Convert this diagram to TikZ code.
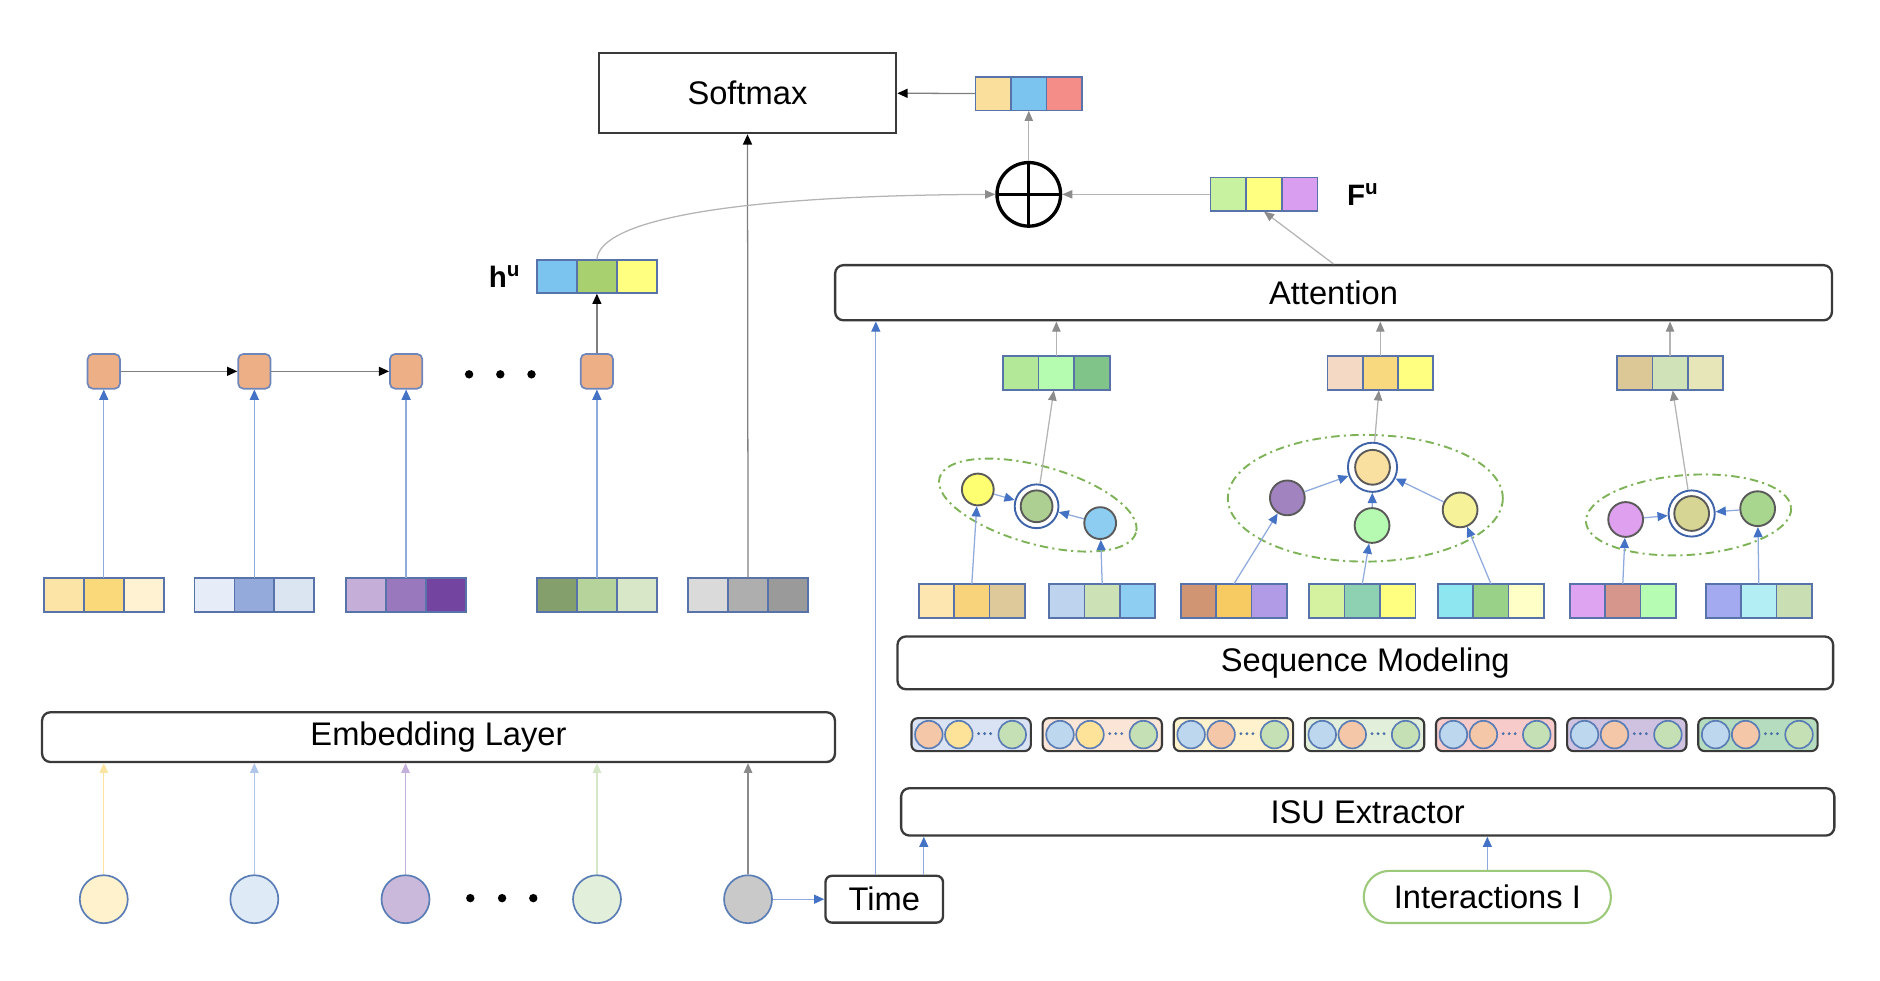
\documentclass[tikz,border=0pt]{standalone}
\usepackage{fontspec}
\setmainfont{Liberation Sans}
\usepackage{tikz}
\usetikzlibrary{arrows}
\usetikzlibrary{arrows.meta}
\usetikzlibrary{positioning}

\definecolor{boxedge}{HTML}{3A3A3A}
\definecolor{celledge}{HTML}{5873AA}
\definecolor{nodeedge}{HTML}{5B7DB5}
\definecolor{gedge}{HTML}{5A5A5A}
\definecolor{ringedge}{HTML}{3F63A8}
\definecolor{bluetip}{HTML}{4472C4}
\definecolor{blueline}{HTML}{8FAADC}
\definecolor{greyline}{HTML}{B4B4B4}
\definecolor{greytip}{HTML}{8C8C8C}
\definecolor{darkline}{HTML}{7F7F7F}
\definecolor{groupline}{HTML}{7DB356}
\definecolor{interedge}{HTML}{9CC97A}
\definecolor{rnnfill}{HTML}{EDB086}
\definecolor{rnnedge}{HTML}{6F86BB}
\definecolor{dotblue}{HTML}{4A6FA5}
% item circles
\definecolor{cA}{HTML}{FFF2CC}
\definecolor{cB}{HTML}{DEEBF7}
\definecolor{cC}{HTML}{CBB9DC}
\definecolor{cD}{HTML}{E2EFDA}
\definecolor{cE}{HTML}{C9C9C9}
\definecolor{aA}{HTML}{FBE3A0}
\definecolor{aB}{HTML}{AFC6EA}
\definecolor{aC}{HTML}{C3B1DB}
\definecolor{aD}{HTML}{D4E7C6}
\definecolor{aE}{HTML}{8A8A8A}
% embeddings
\definecolor{eA1}{HTML}{FCE4A6}
\definecolor{eA2}{HTML}{FAD97A}
\definecolor{eA3}{HTML}{FEF2D2}
\definecolor{eB1}{HTML}{E7EDF8}
\definecolor{eB2}{HTML}{93AADA}
\definecolor{eB3}{HTML}{DBE5F2}
\definecolor{eC1}{HTML}{C5AFD8}
\definecolor{eC2}{HTML}{9A78BD}
\definecolor{eC3}{HTML}{7445A0}
\definecolor{eD1}{HTML}{849F6B}
\definecolor{eD2}{HTML}{B5D39B}
\definecolor{eD3}{HTML}{D9E7C9}
\definecolor{eE1}{HTML}{DADADA}
\definecolor{eE2}{HTML}{AEAEAE}
\definecolor{eE3}{HTML}{9A9A9A}
% outputs
\definecolor{hu1}{HTML}{7CC4F0}
\definecolor{hu2}{HTML}{A8D06E}
\definecolor{hu3}{HTML}{FFFF80}
\definecolor{out1}{HTML}{FADE9C}
\definecolor{out2}{HTML}{7CC4F0}
\definecolor{out3}{HTML}{F48C87}
\definecolor{fu1}{HTML}{C9F2A0}
\definecolor{fu2}{HTML}{FFFF80}
\definecolor{fu3}{HTML}{DA9EF0}
\definecolor{at11}{HTML}{B2E897}
\definecolor{at12}{HTML}{B6FCB0}
\definecolor{at13}{HTML}{80C489}
\definecolor{at21}{HTML}{F4D9C4}
\definecolor{at22}{HTML}{F9D97F}
\definecolor{at23}{HTML}{FFFF80}
\definecolor{at31}{HTML}{DCC896}
\definecolor{at32}{HTML}{D0E3B8}
\definecolor{at33}{HTML}{E6E6B8}
% unit vectors
\definecolor{uA1}{HTML}{FDE6B0}
\definecolor{uA2}{HTML}{F9D37B}
\definecolor{uA3}{HTML}{DEC99B}
\definecolor{uB1}{HTML}{BED4EE}
\definecolor{uB2}{HTML}{CCE1B6}
\definecolor{uB3}{HTML}{8ECEF2}
\definecolor{uC1}{HTML}{D09674}
\definecolor{uC2}{HTML}{F8CB62}
\definecolor{uC3}{HTML}{B29BE6}
\definecolor{uD1}{HTML}{D4F2A0}
\definecolor{uD2}{HTML}{8ED0B2}
\definecolor{uD3}{HTML}{FFFF80}
\definecolor{uE1}{HTML}{8DE6F0}
\definecolor{uE2}{HTML}{9AD188}
\definecolor{uE3}{HTML}{FFFFC8}
\definecolor{uF1}{HTML}{DEA4F1}
\definecolor{uF2}{HTML}{D6968B}
\definecolor{uF3}{HTML}{B6FCB3}
\definecolor{uG1}{HTML}{A3AAEF}
\definecolor{uG2}{HTML}{B3EEF4}
\definecolor{uG3}{HTML}{C9DFB3}
% graph nodes
\definecolor{gY}{HTML}{FFFF72}
\definecolor{gG}{HTML}{ADCF92}
\definecolor{gB}{HTML}{8DCDF2}
\definecolor{gP}{HTML}{A083BF}
\definecolor{gO}{HTML}{FAE0A0}
\definecolor{gM}{HTML}{B5FAB0}
\definecolor{gL}{HTML}{F6F29A}
\definecolor{gV}{HTML}{DFA0F0}
\definecolor{gK}{HTML}{D6D594}
\definecolor{gN}{HTML}{A8D68E}
% sequences
\definecolor{sq1}{HTML}{DAE3F3}
\definecolor{sq2}{HTML}{FBE5D6}
\definecolor{sq3}{HTML}{FFF2CC}
\definecolor{sq4}{HTML}{E2EFDA}
\definecolor{sq5}{HTML}{F8CBCB}
\definecolor{sq6}{HTML}{CFC2E0}
\definecolor{sq7}{HTML}{B5DCBE}
\definecolor{qblue}{HTML}{BDD7EE}
\definecolor{qpeach}{HTML}{F4C7A9}
\definecolor{qyellow}{HTML}{FDE39A}
\definecolor{qgreen}{HTML}{C5E0B4}

\tikzstyle{layer}=[draw=boxedge, line width=1.1pt, rounded corners=4pt, inner sep=0pt]
\tikzstyle{cellline}=[draw=celledge, line width=0.8pt]
\tikzstyle{rnn}=[draw=rnnedge, fill=rnnfill, line width=0.8pt, rounded corners=2.5pt, minimum width=0.54cm, minimum height=0.58cm, inner sep=0pt]
\tikzstyle{item}=[circle, draw=nodeedge, line width=0.8pt, minimum size=0.8cm, inner sep=0pt]
\tikzstyle{gnode}=[circle, draw=gedge, line width=0.9pt, minimum size=0.58cm, inner sep=0pt]
\tikzstyle{ring}=[circle, draw=ringedge, line width=0.9pt, minimum size=0.8cm, inner sep=0pt]
\tikzstyle{unit}=[circle, draw=nodeedge, line width=0.8pt, minimum size=0.46cm, inner sep=0pt]
\tikzstyle{capsule}=[draw=boxedge, line width=1pt, rounded corners=3pt, minimum width=1.99cm, minimum height=0.55cm, inner sep=0pt]
\tikzstyle{group}=[draw=groupline, line width=0.9pt, dash pattern=on 4pt off 2pt on 1pt off 2pt]
\tikzstyle{blue arrow}=[draw=blueline, line width=0.6pt, -{Triangle[color=bluetip, length=0.17cm, width=0.15cm]}]
\tikzstyle{grey arrow}=[draw=greyline, line width=0.6pt, -{Triangle[color=greytip, length=0.17cm, width=0.14cm]}]
\tikzstyle{dark arrow}=[draw=darkline, line width=0.6pt, -{Triangle[color=black, length=0.17cm, width=0.15cm]}]
\tikzstyle{label}=[inner sep=0pt, font=\fontsize{14}{16}\selectfont\bfseries]

% three-cell vector: name, x, y, cell width, colours
\newcommand{\cellvec}[7]{%
  \foreach \cl [count=\i from 0] in {#5,#6,#7}
    \draw[cellline, fill=\cl] ({#2-1.5*#4+\i*#4},{#3-14}) rectangle ++(#4,28);
  \node[inner sep=0pt, minimum width=3*#4*0.02cm, minimum height=0.56cm] (#1) at (#2,#3) {};
}

\begin{document}
\begin{tikzpicture}[x=0.02cm, y=-0.02cm, font=\fontsize{15.5}{18}\selectfont]
    \path[use as bounding box] (0,0) rectangle (1567,817);

    % left branch
    \node[layer, minimum width=13.22cm, minimum height=0.83cm] (emb) at (365.5,614.4) {Embedding Layer};
    \foreach \x/\cf [count=\i] in {86.5/cA,212/cB,338/cC,497.6/cD,623.5/cE}
        \node[item, fill=\cf] (c\i) at (\x,749.5) {};
    \foreach \i/\ac in {1/aA,2/aB,3/aC,4/aD,5/aE}
        \draw[draw=\ac, line width=0.6pt, -{Triangle[color=\ac, length=0.16cm, width=0.14cm]}] (c\i) -- (c\i |- emb.south);
    \foreach \x in {392,418.5,444.5}
        \fill (\x,748.6) circle (3.5);

    \cellvec{e1}{86.5}{496}{33.3}{eA1}{eA2}{eA3}
    \cellvec{e2}{212}{496}{33.3}{eB1}{eB2}{eB3}
    \cellvec{e3}{338.5}{496}{33.3}{eC1}{eC2}{eC3}
    \cellvec{e4}{497.5}{496}{33.3}{eD1}{eD2}{eD3}
    \cellvec{e5}{623.5}{496}{33.3}{eE1}{eE2}{eE3}

    \foreach \x [count=\i] in {86.5,212,338.5,497.5}
        \node[rnn] (h\i) at (\x,309.5) {};
    \foreach \i in {1,...,4}
        \draw[blue arrow] (e\i) -- (h\i);
    \draw[dark arrow] (h1) -- (h2);
    \draw[dark arrow] (h2) -- (h3);
    \foreach \x in {391,417,443}
        \fill (\x,312) circle (3.5);

    \cellvec{hu}{497.5}{230.5}{33.3}{hu1}{hu2}{hu3}
    \node[label, left=0.26cm of hu] (hulab) {h\textsuperscript{u}};
    \draw[dark arrow] (h4) -- (hu);

    % output
    \node[draw=boxedge, line width=1.1pt, minimum width=4.96cm, minimum height=1.34cm, inner sep=0pt] (soft) at (623,77.5) {Softmax};
    \draw[dark arrow] (e5) -- (soft);
    \cellvec{out}{857.5}{78}{29.7}{out1}{out2}{out3}
    \draw[dark arrow] (out) -- (soft);
    \node[circle, draw, line width=1.6pt, minimum size=1.06cm, inner sep=0pt,
        path picture={\draw[line width=1.5pt] (path picture bounding box.west) -- (path picture bounding box.east)
            (path picture bounding box.north) -- (path picture bounding box.south);}] (sum) at (857.5,162) {};
    \draw[grey arrow] (sum) -- (out);
    \cellvec{Fu}{1053.5}{162}{29.7}{fu1}{fu2}{fu3}
    \node[label, right=0.48cm of Fu] (fulab) {F\textsuperscript{u}};
    \draw[grey arrow] (Fu) -- (sum);
    \draw[grey arrow] (hu.north) .. controls (500,185) and (600,163) .. (sum.west);

    % right branch
    \node[layer, minimum width=16.62cm, minimum height=0.92cm] (att) at (1111.5,244) {Attention};
    \draw[grey arrow] (att.north) -- (Fu.south);
    \cellvec{a1}{880.5}{311}{29.7}{at11}{at12}{at13}
    \cellvec{a2}{1150.5}{311}{29.4}{at21}{at22}{at23}
    \cellvec{a3}{1392}{311}{29.4}{at31}{at32}{at33}
    \foreach \i in {1,2,3}
        \draw[grey arrow] (a\i) -- (a\i |- att.south);

    \cellvec{u1}{810}{501}{29.5}{uA1}{uA2}{uA3}
    \cellvec{u2}{918.7}{501}{29.5}{uB1}{uB2}{uB3}
    \cellvec{u3}{1028.5}{501}{29.5}{uC1}{uC2}{uC3}
    \cellvec{u4}{1135.5}{501}{29.5}{uD1}{uD2}{uD3}
    \cellvec{u5}{1242.7}{501}{29.5}{uE1}{uE2}{uE3}
    \cellvec{u6}{1352.6}{501}{29.5}{uF1}{uF2}{uF3}
    \cellvec{u7}{1466}{501}{29.5}{uG1}{uG2}{uG3}

    % graph 1
    \draw[group, rotate around={-15.6:(865,421)}] (865,421) ellipse [x radius=85, y radius=32.5];
    \node[gnode, minimum size=0.53cm, fill=gY] (n11) at (815,408) {};
    \node[ring, minimum size=0.73cm] (r1) at (864,422) {};
    \node[gnode, minimum size=0.53cm, fill=gG] (n12) at (864,422) {};
    \node[gnode, minimum size=0.53cm, fill=gB] (n13) at (917,436) {};
    \draw[blue arrow] (u1.north) -- (n11);
    \draw[blue arrow] (u2.north) -- (n13);
    \draw[blue arrow] (n11) -- (r1);
    \draw[blue arrow] (n13) -- (r1);
    \draw[grey arrow] (r1) -- (a1);

    % graph 2
    \draw[group] (1138,415.3) ellipse [x radius=114.6, y radius=52.8];
    \node[gnode, fill=gP] (n21) at (1073,415) {};
    \node[ring, minimum size=0.82cm] (r2) at (1144,389.5) {};
    \node[gnode, fill=gO] (n22) at (1144,389.5) {};
    \node[gnode, fill=gM] (n23) at (1143.6,438) {};
    \node[gnode, fill=gL] (n24) at (1217,425) {};
    \draw[blue arrow] (u3.north) -- (n21);
    \draw[blue arrow] (u4.north) -- (n23);
    \draw[blue arrow] (u5.north) -- (n24);
    \draw[blue arrow] (n21) -- (r2);
    \draw[blue arrow] (n23) -- (r2);
    \draw[blue arrow] (n24) -- (r2);
    \draw[grey arrow] (r2) -- (a2);

    % graph 3
    \draw[group, rotate around={4:(1407.4,429.2)}] (1407.4,429.2) ellipse [x radius=85.7, y radius=33.3];
    \node[gnode, fill=gV] (n31) at (1355,433) {};
    \node[ring, minimum size=0.77cm] (r3) at (1410,428) {};
    \node[gnode, fill=gK] (n32) at (1410,428) {};
    \node[gnode, fill=gN] (n33) at (1465,424) {};
    \draw[blue arrow] (u6.north) -- (n31);
    \draw[blue arrow] (u7.north) -- (n33);
    \draw[blue arrow] (n31) -- (r3);
    \draw[blue arrow] (n33) -- (r3);
    \draw[grey arrow] (r3) -- (a3);

    \node[layer, minimum width=15.6cm, minimum height=0.88cm] (seq) at (1138,552.5) {Sequence Modeling};

    % interaction sequences
    \foreach \fc/\ca/\cb [count=\i from 0] in {sq1/qpeach/qyellow,sq2/qblue/qyellow,sq3/qblue/qpeach,sq4/qblue/qpeach,sq5/qblue/qpeach,sq6/qblue/qpeach,sq7/qblue/qpeach} {
        \pgfmathsetmacro\L{759.7+\i*109.3}
        \node[capsule, fill=\fc] (k\i) at (\L+49.75,612.3) {};
        \node[unit, fill=\ca] (k\i a) at (\L+14.5,612.3) {};
        \node[unit, fill=\cb] (k\i b) at (\L+39.5,612.3) {};
        \node[unit, fill=qgreen] (k\i c) at (\L+84,612.3) {};
        \foreach \d in {56,61,66}
            \fill[dotblue] (\L+\d,611.5) circle (1.3);
    }

    \node[layer, minimum width=15.56cm, minimum height=0.79cm] (isu) at (1140,676.7) {ISU Extractor};
    \node[layer, rounded corners=3pt, minimum width=1.96cm, minimum height=0.78cm] (time) at (737,749.5) {Time};
    \node[draw=interedge, line width=1pt, rounded corners=0.43cm, minimum width=4.12cm, minimum height=0.87cm, inner sep=0pt] (inter) at (1239.7,747.6) {Interactions I};

    \coordinate (tl) at ([xshift=-0.14cm]time.north);
    \coordinate (tr) at ([xshift=0.66cm]time.north);
    \draw[blue arrow] (c5) -- (time);
    \draw[blue arrow] (tl) -- (tl |- att.south);
    \draw[blue arrow] (tr) -- (tr |- isu.south);
    \draw[blue arrow] (inter.north) -- (inter.north |- isu.south);
\end{tikzpicture}
\end{document}
